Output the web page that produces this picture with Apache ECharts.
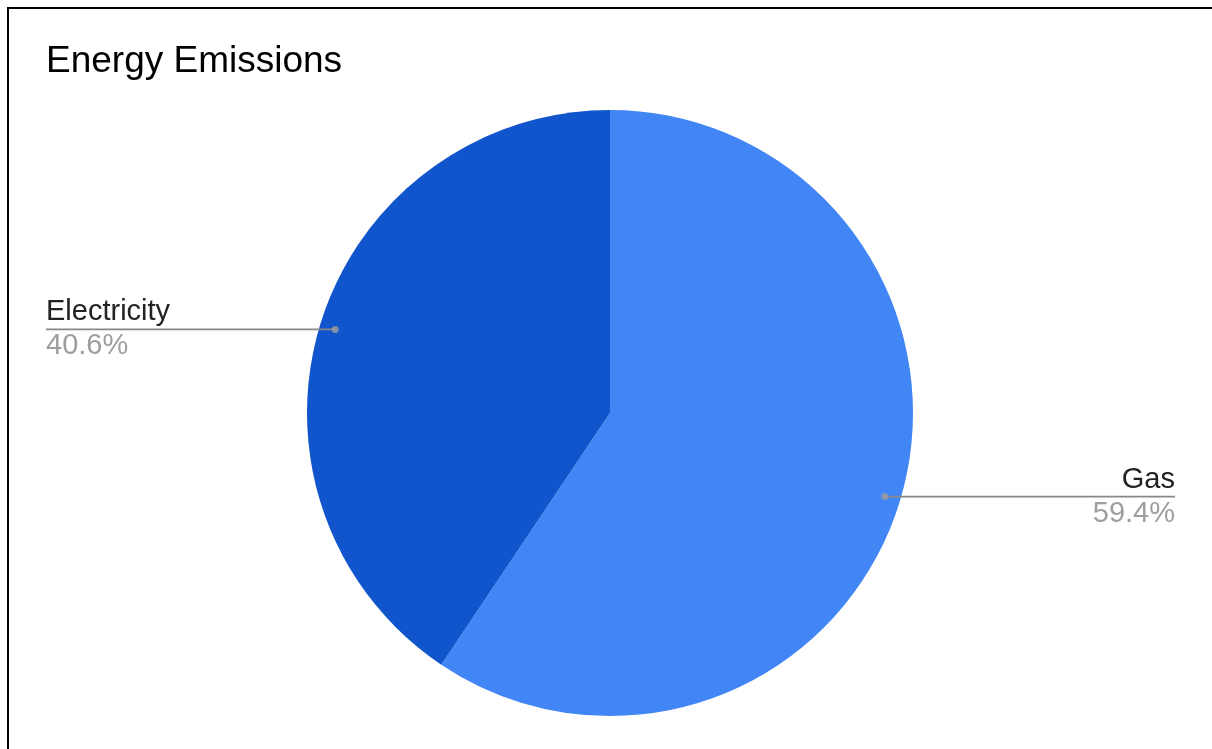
<!DOCTYPE html>
<html>
<head>
<meta charset="utf-8">
<script src="https://cdn.jsdelivr.net/npm/echarts@6/dist/echarts.min.js"></script>
<style>
  html, body { margin: 0; padding: 0; background: #fff; overflow: hidden; }
  #frame { position: absolute; left: 7px; top: 7px; width: 1400px; height: 900px; border: 2px solid #000; box-sizing: border-box; }
  #chart { position: absolute; left: 0; top: 0; width: 1212px; height: 749px; }
</style>
</head>
<body>
<div id="frame"></div>
<div id="chart"></div>
<script>
const titleText = 'Energy Emissions';
const categories = ['Gas', 'Electricity'];
const values = [59.4, 40.6];
const sliceColors = ['#4285F4', '#1155CC'];
const edgeDistances = [37, 46];

const FONT = '"Liberation Sans", Arial, sans-serif';
const LABEL_SIZE = 29;
const total = values.reduce((a, b) => a + b, 0);

const pctText = v => (v / total * 100).toFixed(1) + '%';

// measure label widths so the leader line ends exactly at the text's outer edge
const mctx = document.createElement('canvas').getContext('2d');
mctx.font = LABEL_SIZE + 'px ' + FONT;
const textWidth = (i) => Math.max(mctx.measureText(categories[i]).width, mctx.measureText(pctText(values[i])).width);

const mainData = categories.map((c, i) => ({ name: c, value: values[i], itemStyle: { color: sliceColors[i] } }));
const labelData = categories.map((c, i) => ({
  name: c,
  value: values[i],
  label: { edgeDistance: edgeDistances[i], distanceToLabelLine: -textWidth(i) }
}));

// dot positions: midpoint angle (percent of full turn) from the data
let cum = 0;
const dotData = values.map(v => { const mid = (cum + v / 2) / total * 100; cum += v; return [0.948, mid]; });

const chart = echarts.init(document.getElementById('chart'), null, { renderer: 'canvas' });
chart.setOption({
  backgroundColor: 'transparent',
  animation: false,
  title: {
    text: titleText,
    left: 41,
    top: 38,
    textStyle: { fontFamily: FONT, fontSize: 37, fontWeight: 'normal', color: '#000' }
  },
  polar: { center: [610, 413], radius: 303 },
  angleAxis: { type: 'value', min: 0, max: 100, startAngle: 90, clockwise: true, show: false },
  radiusAxis: { type: 'value', min: 0, max: 1, show: false },
  series: [
    {
      type: 'pie',
      center: [610, 413],
      radius: 303,
      startAngle: 90,
      clockwise: true,
      silent: true,
      label: { show: false },
      labelLine: { show: false },
      itemStyle: { borderWidth: 0 },
      data: mainData,
      z: 1
    },
    {
      type: 'pie',
      center: [610, 413],
      radius: 287,
      startAngle: 90,
      clockwise: true,
      silent: true,
      avoidLabelOverlap: true,
      itemStyle: { color: 'rgba(0,0,0,0)', borderWidth: 0 },
      label: {
        show: true,
        position: 'outside',
        alignTo: 'edge',
        formatter: p => '{n|' + p.name + '}\n{p|' + pctText(p.value) + '}',
        rich: {
          n: { fontFamily: FONT, fontSize: LABEL_SIZE, color: '#222222', lineHeight: 34 },
          p: { fontFamily: FONT, fontSize: LABEL_SIZE, color: '#9e9e9e', lineHeight: 34 }
        }
      },
      labelLine: {
        show: true,
        length: 0.01,
        length2: 5,
        minTurnAngle: 0,
        maxSurfaceAngle: 180,
        lineStyle: { color: '#888888', width: 1.8 }
      },
      data: labelData,
      z: 2
    },
    {
      type: 'scatter',
      coordinateSystem: 'polar',
      symbol: 'circle',
      symbolSize: 7,
      silent: true,
      itemStyle: { color: '#9e9e9e' },
      data: dotData,
      z: 3
    }
  ]
});
</script>
</body>
</html>
